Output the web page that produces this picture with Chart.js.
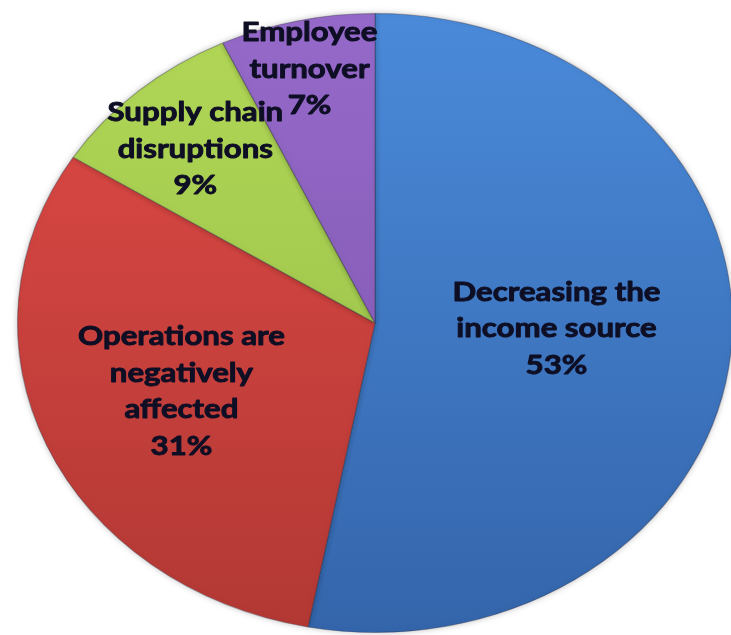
<!DOCTYPE html>
<html>
<head>
<meta charset="utf-8">
<script src="https://cdn.jsdelivr.net/npm/chart.js@4/dist/chart.umd.min.js"></script>
<style>
  html, body { margin: 0; padding: 0; background: #ffffff; }
  #wrap { width: 731px; height: 635px; }
</style>
</head>
<body>
<div id="wrap"><canvas id="pie"></canvas></div>
<script>
// data
var categories = ['Decreasing the income source', 'Operations are negatively affected', 'Supply chain disruptions', 'Employee turnover'];
var labelLines = [['Decreasing the', 'income source'], ['Operations are', 'negatively', 'affected'], ['Supply chain', 'disruptions'], ['Employee', 'turnover']];
var values = [53, 31, 9, 7];

// slice shading, light at the top and darker at the bottom
var topColors = ['#4a8ad9', '#e04a46', '#b2d757', '#9569c9'];
var bottomColors = ['#3465ab', '#b23834', '#93bd45', '#7c55ac'];
var labelRadius = [0.51, 0.59, 0.76, 0.84];
var labelNudge = [-9, -4, 3, 0];

var stretchX = 1.155;   // the pie is drawn a bit wider than tall

function sliceFill(context) {
    var chart = context.chart;
    var area = chart.chartArea;
    var i = context.dataIndex;
    if (!area) return topColors[i];
    var g = chart.ctx.createLinearGradient(0, area.top, 0, area.bottom);
    g.addColorStop(0, topColors[i]);
    g.addColorStop(1, bottomColors[i]);
    return g;
}

var stretchPlugin = {
    id: 'stretch',
    beforeDatasetsDraw: function(chart) {
        var arc = chart.getDatasetMeta(0).data[0];
        var ctx = chart.ctx;
        ctx.save();
        ctx.translate(arc.x, arc.y);
        ctx.scale(stretchX, 1);
        ctx.translate(-arc.x, -arc.y);
        ctx.shadowColor = 'rgba(0,0,0,0.25)';
        ctx.shadowBlur = 6;
    },
    afterDatasetsDraw: function(chart) {
        var ctx = chart.ctx;
        ctx.restore();
        var meta = chart.getDatasetMeta(0);
        ctx.save();
        ctx.font = 'bold 26px Lato';
        ctx.fillStyle = '#0e0e24';
        ctx.strokeStyle = '#0e0e24';
        ctx.lineWidth = 0.9;
        ctx.lineJoin = 'round';
        ctx.textAlign = 'center';
        ctx.textBaseline = 'middle';
        meta.data.forEach(function(arc, i) {
            var mid = (arc.startAngle + arc.endAngle) / 2;
            var r = arc.outerRadius * labelRadius[i];
            var px = arc.x + Math.cos(mid) * r * stretchX;
            var py = arc.y + Math.sin(mid) * r + labelNudge[i];
            var lines = labelLines[i].concat([values[i] + '%']);
            var lh = 36.5;
            var y0 = py - (lines.length - 1) * lh / 2;
            lines.forEach(function(t, k) {
                ctx.save();
                ctx.translate(px, y0 + k * lh);
                ctx.scale(1.2, 1);
                ctx.fillText(t, 0, 0);
                ctx.strokeText(t, 0, 0);
                ctx.restore();
            });
        });
        ctx.restore();
    }
};

window.onload = function() {
    var ctx = document.getElementById('pie').getContext('2d');
    window.myPie = new Chart(ctx, {
        type: 'pie',
        data: {
            labels: categories,
            datasets: [{
                data: values,
                backgroundColor: sliceFill,
                borderColor: 'rgba(40,40,60,0.35)',
                borderWidth: 1
            }]
        },
        options: {
            responsive: true,
            maintainAspectRatio: false,
            animation: false,
            layout: {
                padding: { top: 13, bottom: 2, left: 65, right: 46 }
            },
            plugins: {
                legend: { display: false },
                tooltip: { enabled: false },
                title: { display: false }
            }
        },
        plugins: [stretchPlugin]
    });
};
</script>
</body>
</html>
